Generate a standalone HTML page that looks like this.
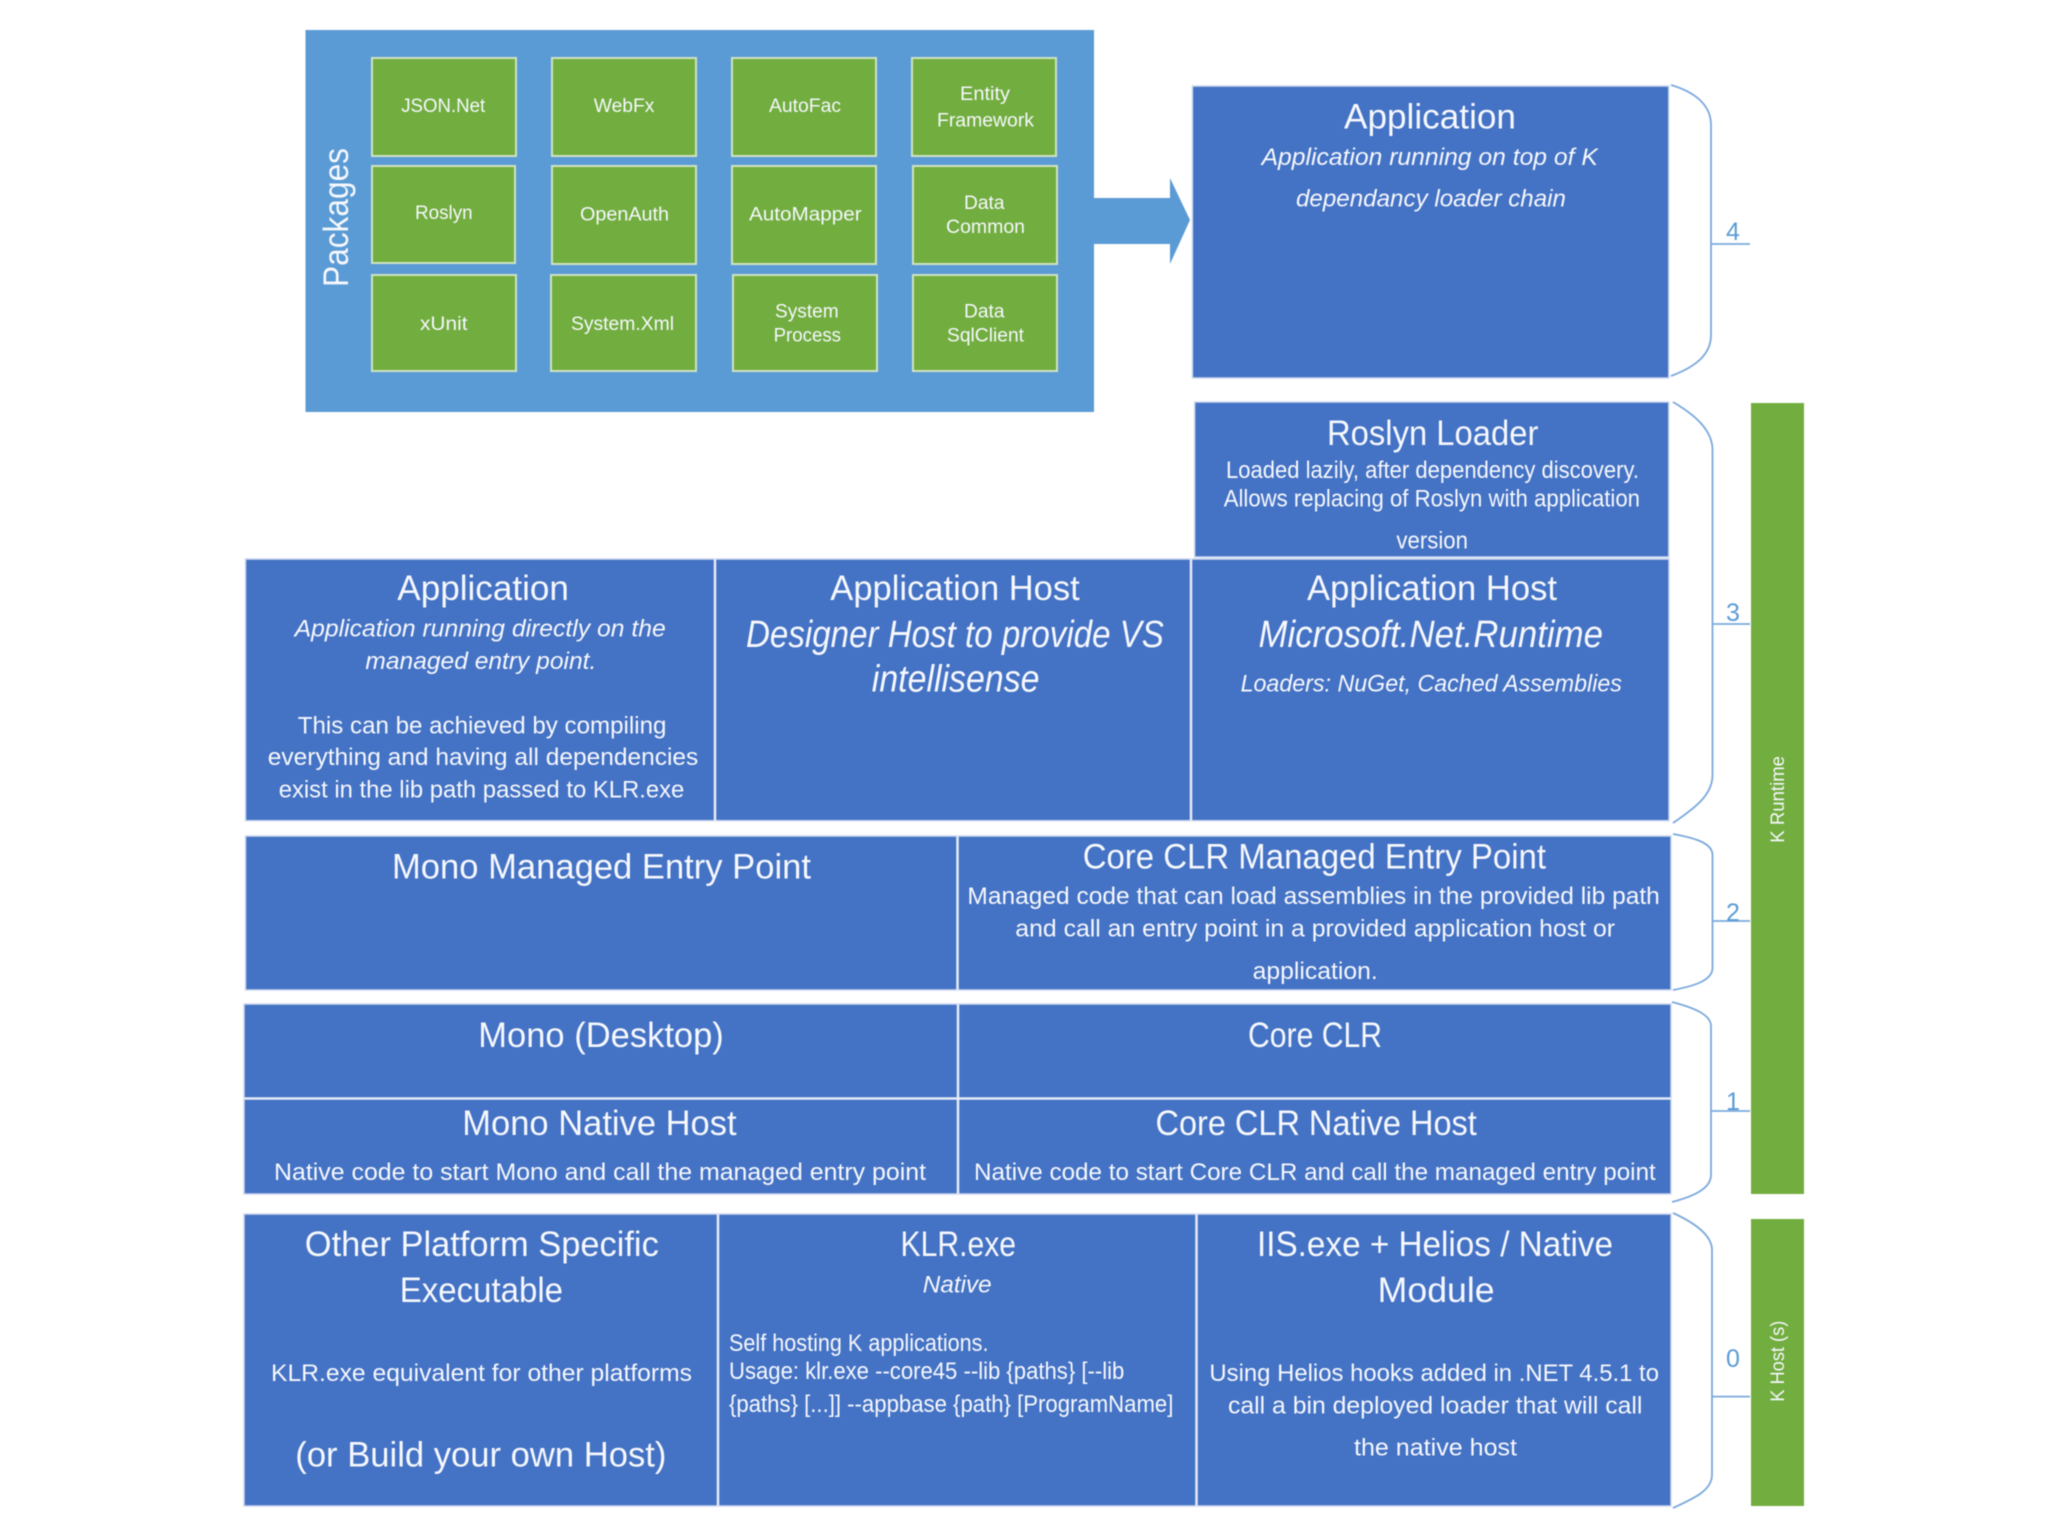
<!DOCTYPE html>
<html><head><meta charset="utf-8"><title>K Runtime layers</title>
<style>
html,body{margin:0;padding:0;background:#fff;width:2048px;height:1536px;overflow:hidden}
svg{display:block;filter:blur(.6px)}
text{font-family:"Liberation Sans",sans-serif;fill:#f6f8fd}
.p{font-size:19px}.t{font-size:35px}.b{font-size:24px}
.i{font-style:italic}.h{font-size:38px;font-style:italic}
.n{font-size:25px;fill:#5b9bd5}
.r{fill:#4472c4;stroke:#cdd9f0;stroke-width:1.5}
.g{fill:#72ad3f;stroke:#cfe3c3;stroke-width:2}
.d{stroke:#e6ecf8;stroke-width:2.5}
.br{fill:none;stroke:#7aa9dc;stroke-width:1.8}
</style></head><body>
<svg width="2048" height="1536" viewBox="0 0 2048 1536" xmlns="http://www.w3.org/2000/svg">
<rect width="2048" height="1536" fill="#fff"/>
<!-- Packages -->
<rect x="305.5" y="30" width="788.5" height="382" fill="#5b9bd5"/>
<path d="M1094 198H1170V178L1190 220L1170 264V244H1094Z" fill="#5b9bd5"/>
<g>
<rect class="g" x="372" y="58" width="144" height="98"/><rect class="g" x="552" y="58" width="144" height="98"/><rect class="g" x="732" y="58" width="144" height="98"/><rect class="g" x="912" y="58" width="144" height="98"/>
<rect class="g" x="372" y="166" width="143" height="97"/><rect class="g" x="552" y="166" width="144" height="98"/><rect class="g" x="732" y="166" width="144" height="98"/><rect class="g" x="913" y="166" width="144" height="98"/>
<rect class="g" x="372" y="275" width="144" height="96"/><rect class="g" x="551" y="275" width="145" height="96"/><rect class="g" x="733" y="275" width="144" height="96"/><rect class="g" x="913" y="275" width="144" height="96"/>
</g>
<g>
<text class="p" x="401.2" y="112" textLength="84" lengthAdjust="spacingAndGlyphs">JSON.Net</text>
<text class="p" x="593.8" y="112" textLength="60.6" lengthAdjust="spacingAndGlyphs">WebFx</text>
<text class="p" x="769" y="112" textLength="72" lengthAdjust="spacingAndGlyphs">AutoFac</text>
<text class="p" x="960" y="100" textLength="50" lengthAdjust="spacingAndGlyphs">Entity</text>
<text class="p" x="937" y="126.7" textLength="97" lengthAdjust="spacingAndGlyphs">Framework</text>
<text class="p" x="415" y="219" textLength="57.6" lengthAdjust="spacingAndGlyphs">Roslyn</text>
<text class="p" x="580" y="220.7" textLength="89" lengthAdjust="spacingAndGlyphs">OpenAuth</text>
<text class="p" x="749" y="220.7" textLength="112.6" lengthAdjust="spacingAndGlyphs">AutoMapper</text>
<text class="p" x="964" y="209" textLength="40.5" lengthAdjust="spacingAndGlyphs">Data</text>
<text class="p" x="946" y="233" textLength="79" lengthAdjust="spacingAndGlyphs">Common</text>
<text class="p" x="420" y="330" textLength="47.5" lengthAdjust="spacingAndGlyphs">xUnit</text>
<text class="p" x="571" y="330" textLength="103" lengthAdjust="spacingAndGlyphs">System.Xml</text>
<text class="p" x="775" y="317.7" textLength="63.7" lengthAdjust="spacingAndGlyphs">System</text>
<text class="p" x="773.6" y="341.7" textLength="67.4" lengthAdjust="spacingAndGlyphs">Process</text>
<text class="p" x="964" y="317.7" textLength="40.5" lengthAdjust="spacingAndGlyphs">Data</text>
<text class="p" x="947" y="341.7" textLength="77" lengthAdjust="spacingAndGlyphs">SqlClient</text>
</g>
<text class="t" transform="translate(348,287) rotate(-90)" textLength="139" lengthAdjust="spacingAndGlyphs">Packages</text>

<!-- Blue boxes -->
<rect class="r" x="1192.4" y="86" width="476.4" height="292"/>
<rect class="r" x="1194.6" y="402" width="474.2" height="155"/>
<rect class="r" x="245.5" y="559" width="1423.5" height="261.7"/>
<line class="d" x1="715" y1="559" x2="715" y2="821"/><line class="d" x1="1191" y1="559" x2="1191" y2="821"/>
<rect class="r" x="245.5" y="836" width="1425.5" height="154"/>
<line class="d" x1="957.5" y1="836" x2="957.5" y2="990"/>
<rect class="r" x="244" y="1004" width="1427" height="190"/>
<line class="d" x1="958" y1="1004" x2="958" y2="1194"/><line class="d" x1="244" y1="1098.5" x2="1671" y2="1098.5"/>
<rect class="r" x="244" y="1214" width="1427" height="292"/>
<line class="d" x1="718" y1="1214" x2="718" y2="1506"/><line class="d" x1="1196.5" y1="1214" x2="1196.5" y2="1506"/>

<!-- Green bars -->
<rect x="1751" y="403" width="53" height="791" fill="#72ad3f"/>
<rect x="1751" y="1219" width="53" height="287" fill="#72ad3f"/>
<text style="font-size:19px" transform="translate(1784,842.7) rotate(-90)" textLength="86.7" lengthAdjust="spacingAndGlyphs">K Runtime</text>
<text style="font-size:19px" transform="translate(1784,1401.7) rotate(-90)" textLength="81" lengthAdjust="spacingAndGlyphs">K Host (s)</text>

<!-- Braces -->
<path class="br" d="M1671 85C1695 92 1711 105 1711 125V335C1711 355 1695 367 1671 376M1711 244H1750"/>
<path class="br" d="M1673 402C1695 415 1712.5 430 1712.5 450V775C1712.5 795 1695 808 1673 823M1712.5 624H1750"/>
<path class="br" d="M1673 834C1695 838 1712.5 843 1712.5 855V968C1712.5 980 1695 986 1673 990M1712.5 921H1750"/>
<path class="br" d="M1672 1002C1695 1008 1711 1015 1711 1026V1175C1711 1188 1695 1196 1672 1202M1711 1111H1750"/>
<path class="br" d="M1673 1213C1695 1223 1712 1235 1712 1250V1475C1712 1490 1695 1498 1673 1508M1712 1396.6H1750"/>
<text class="n" x="1733" y="240" text-anchor="middle">4</text>
<text class="n" x="1733" y="621" text-anchor="middle">3</text>
<text class="n" x="1733" y="921" text-anchor="middle">2</text>
<text class="n" x="1733" y="1110" text-anchor="middle">1</text>
<text class="n" x="1733" y="1367" text-anchor="middle">0</text>

<!-- App -->
<text class="t" x="1344" y="128.3" textLength="172" lengthAdjust="spacingAndGlyphs">Application</text>
<text class="b i" x="1261.6" y="165" textLength="336.2" lengthAdjust="spacingAndGlyphs">Application running on top of K</text>
<text class="b i" x="1296" y="206.7" textLength="270" lengthAdjust="spacingAndGlyphs">dependancy loader chain</text>
<!-- Roslyn -->
<text class="t" x="1327" y="445" textLength="211.4" lengthAdjust="spacingAndGlyphs">Roslyn Loader</text>
<text class="b" x="1226" y="478" textLength="413" lengthAdjust="spacingAndGlyphs">Loaded lazily, after dependency discovery.</text>
<text class="b" x="1223.7" y="506.7" textLength="416.3" lengthAdjust="spacingAndGlyphs">Allows replacing of Roslyn with application</text>
<text class="b" x="1396.4" y="548.3" textLength="71.6" lengthAdjust="spacingAndGlyphs">version</text>
<!-- Row 3 -->
<text class="t" x="397.3" y="600" textLength="171.6" lengthAdjust="spacingAndGlyphs">Application</text>
<text class="b i" x="294.6" y="636.7" textLength="371.2" lengthAdjust="spacingAndGlyphs">Application running directly on the</text>
<text class="b i" x="365.4" y="669" textLength="230.9" lengthAdjust="spacingAndGlyphs">managed entry point.</text>
<text class="b" x="297.8" y="733.3" textLength="368.6" lengthAdjust="spacingAndGlyphs">This can be achieved by compiling</text>
<text class="b" x="267.8" y="765" textLength="430.5" lengthAdjust="spacingAndGlyphs">everything and having all dependencies</text>
<text class="b" x="278.7" y="797.3" textLength="405.6" lengthAdjust="spacingAndGlyphs">exist in the lib path passed to KLR.exe</text>
<text class="t" x="830.3" y="600" textLength="249.4" lengthAdjust="spacingAndGlyphs">Application Host</text>
<text class="h" x="746" y="647" textLength="417.9" lengthAdjust="spacingAndGlyphs">Designer Host to provide VS</text>
<text class="h" x="871.8" y="691.5" textLength="167.7" lengthAdjust="spacingAndGlyphs">intellisense</text>
<text class="t" x="1307" y="600" textLength="250" lengthAdjust="spacingAndGlyphs">Application Host</text>
<text class="h" x="1258.5" y="647" textLength="344.5" lengthAdjust="spacingAndGlyphs">Microsoft.Net.Runtime</text>
<text class="b i" x="1240.6" y="691.7" textLength="381.3" lengthAdjust="spacingAndGlyphs">Loaders: NuGet, Cached Assemblies</text>
<!-- Row 2 -->
<text class="t" x="392" y="878.3" textLength="419" lengthAdjust="spacingAndGlyphs">Mono Managed Entry Point</text>
<text class="t" x="1082.7" y="868.3" textLength="463.3" lengthAdjust="spacingAndGlyphs">Core CLR Managed Entry Point</text>
<text class="b" x="967.4" y="904" textLength="692.4" lengthAdjust="spacingAndGlyphs">Managed code that can load assemblies in the provided lib path</text>
<text class="b" x="1015.3" y="936.7" textLength="599.7" lengthAdjust="spacingAndGlyphs">and call an entry point in a provided application host or</text>
<text class="b" x="1252.7" y="979" textLength="125" lengthAdjust="spacingAndGlyphs">application.</text>
<!-- Row 1 -->
<text class="t" x="478.3" y="1047" textLength="245.5" lengthAdjust="spacingAndGlyphs">Mono (Desktop)</text>
<text class="t" x="1248" y="1047" textLength="134" lengthAdjust="spacingAndGlyphs">Core CLR</text>
<text class="t" x="462.3" y="1135" textLength="274.3" lengthAdjust="spacingAndGlyphs">Mono Native Host</text>
<text class="t" x="1155.5" y="1135" textLength="321.3" lengthAdjust="spacingAndGlyphs">Core CLR Native Host</text>
<text class="b" x="274" y="1180.2" textLength="652" lengthAdjust="spacingAndGlyphs">Native code to start Mono and call the managed entry point</text>
<text class="b" x="974" y="1180.2" textLength="681.8" lengthAdjust="spacingAndGlyphs">Native code to start Core CLR and call the managed entry point</text>
<!-- Row 0 -->
<text class="t" x="304.8" y="1256" textLength="354" lengthAdjust="spacingAndGlyphs">Other Platform Specific</text>
<text class="t" x="399.8" y="1302" textLength="163.2" lengthAdjust="spacingAndGlyphs">Executable</text>
<text class="b" x="271" y="1381" textLength="421" lengthAdjust="spacingAndGlyphs">KLR.exe equivalent for other platforms</text>
<text class="t" x="295.3" y="1466.7" textLength="371.1" lengthAdjust="spacingAndGlyphs">(or Build your own Host)</text>
<text class="t" x="900.5" y="1256" textLength="115.5" lengthAdjust="spacingAndGlyphs">KLR.exe</text>
<text class="b i" x="922.8" y="1292.3" textLength="68.9" lengthAdjust="spacingAndGlyphs">Native</text>
<text class="b" x="729" y="1351" textLength="259.5" lengthAdjust="spacingAndGlyphs">Self hosting K applications.</text>
<text class="b" x="729" y="1378.8" textLength="395.3" lengthAdjust="spacingAndGlyphs">Usage: klr.exe --core45 --lib {paths} [--lib</text>
<text class="b" x="729" y="1412" textLength="444.4" lengthAdjust="spacingAndGlyphs">{paths} [...]] --appbase {path} [ProgramName]</text>
<text class="t" x="1257" y="1256" textLength="356" lengthAdjust="spacingAndGlyphs">IIS.exe + Helios / Native</text>
<text class="t" x="1377.7" y="1302" textLength="116.9" lengthAdjust="spacingAndGlyphs">Module</text>
<text class="b" x="1209.4" y="1381" textLength="449.6" lengthAdjust="spacingAndGlyphs">Using Helios hooks added in .NET 4.5.1 to</text>
<text class="b" x="1228" y="1413.7" textLength="414.4" lengthAdjust="spacingAndGlyphs">call a bin deployed loader that will call</text>
<text class="b" x="1354" y="1455.4" textLength="163" lengthAdjust="spacingAndGlyphs">the native host</text>
</svg>
</body></html>
